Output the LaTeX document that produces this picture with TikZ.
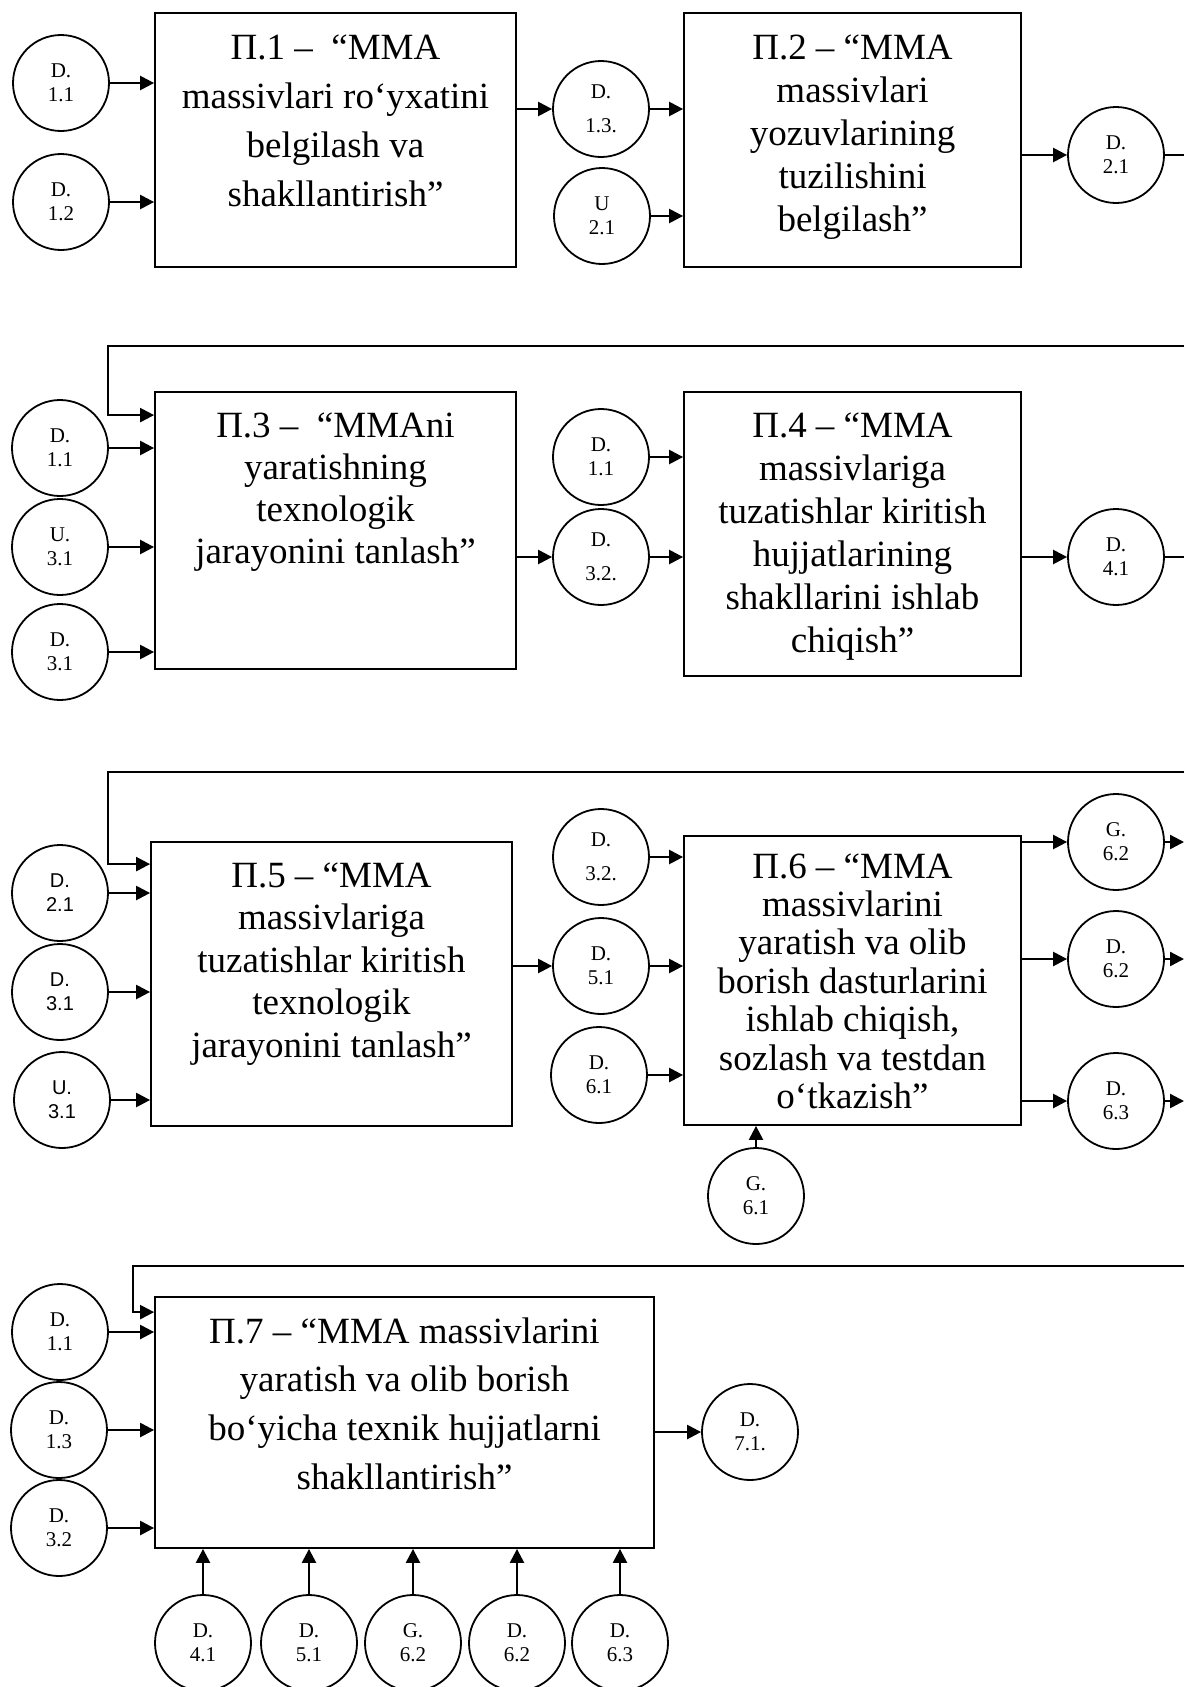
\documentclass[tikz,border=0pt]{standalone}
\usepackage{fontspec}
\setmainfont{Liberation Serif}
\newfontfamily\arialfont{Liberation Sans}
\usetikzlibrary{arrows.meta}

\def\boxfont#1{\fontsize{18.5}{#1}\selectfont}   % process text, #1 = line spacing
\def\edgex{1184}                                   % right border of the sheet

\begin{document}
\begin{tikzpicture}[x=0.5pt,y=-0.5pt,
    dcirc/.style={circle,draw,line width=0.9pt,minimum size=48pt,inner sep=0pt,
      align=center,font=\fontsize{10.5}{12}\selectfont},
    dsans/.style={dcirc,font=\arialfont\fontsize{10}{12}\selectfont},
    procbox/.style={draw,line width=0.9pt,inner sep=0pt},
    proctxt/.style={align=center,inner sep=0pt,anchor=north},
    flow/.style={line width=1.2pt,-{Triangle[length=7pt,width=7pt]}},
    plain/.style={line width=1.2pt}]
  \useasboundingbox (0,0) rectangle (1184,1687);

  % ---------- P.1 and P.2
  \node[dcirc] (d11a) at (61,83) {D.\\1.1};
  \node[dcirc] (d12) at (61,202) {D.\\1.2};
  \node[procbox,minimum width=180.5pt,minimum height=127pt] (p1) at (335.5,140) {};
  \node[proctxt,font=\boxfont{24.5}] (t1) at (335.5,34)
    {П.1 –~~“MMA\\massivlari ro‘yxatini\\belgilash va\\shakllantirish”};
  \node[dcirc] (d13a) at (601,109) {D.\\[5pt]1.3.};
  \node[dcirc] (u21) at (602,216) {U\\2.1};
  \node[procbox,minimum width=168.5pt,minimum height=127pt] (p2) at (852.5,140) {};
  \node[proctxt,font=\boxfont{21.5}] (t2) at (852.5,34)
    {П.2 – “MMA\\massivlari\\yozuvlarining\\tuzilishini\\belgilash”};
  \node[dcirc] (d21a) at (1116,155) {D.\\2.1};
  \coordinate (d21out) at (\edgex,155);

  \foreach \src in {d11a,d12} \draw[flow] (\src.east) -- (\src.east -| p1.west);
  \draw[flow] (d13a.west -| p1.east) -- (d13a.west);
  \foreach \src in {d13a,u21} \draw[flow] (\src.east) -- (\src.east -| p2.west);
  \draw[flow] (d21a.west -| p2.east) -- (d21a.west);
  \draw[plain] (d21a.east) -- (d21out);

  % ---------- P.3 and P.4
  \coordinate (fb2) at (\edgex,346);
  \coordinate (fb2c) at (108,346);
  \node[dcirc] (d11b) at (60,448) {D.\\1.1};
  \node[dcirc] (u31a) at (60,547) {U.\\3.1};
  \node[dcirc] (d31a) at (60,652) {D.\\3.1};
  \node[procbox,minimum width=180.5pt,minimum height=138.5pt] (p3) at (335.5,530.5) {};
  \node[proctxt,font=\boxfont{21}] (t3) at (335.5,412)
    {П.3 –~~“MMAni\\yaratishning\\texnologik\\jarayonini tanlash”};
  \node[dcirc] (d11c) at (601,457) {D.\\1.1};
  \node[dcirc] (d32a) at (601,557) {D.\\[5pt]3.2.};
  \node[procbox,minimum width=168.5pt,minimum height=142pt] (p4) at (852.5,534) {};
  \node[proctxt,font=\boxfont{21.5}] (t4) at (852.5,412)
    {П.4 – “MMA\\massivlariga\\tuzatishlar kiritish\\hujjatlarining\\shakllarini ishlab\\chiqish”};
  \node[dcirc] (d41a) at (1116,557) {D.\\4.1};
  \coordinate (d41out) at (\edgex,557);

  \draw[flow] (fb2) -- (fb2c) |- ([yshift=-12pt]p3.north west);
  \foreach \src in {d11b,u31a,d31a} \draw[flow] (\src.east) -- (\src.east -| p3.west);
  \draw[flow] (d32a.west -| p3.east) -- (d32a.west);
  \foreach \src in {d11c,d32a} \draw[flow] (\src.east) -- (\src.east -| p4.west);
  \draw[flow] (d41a.west -| p4.east) -- (d41a.west);
  \draw[plain] (d41a.east) -- (d41out);

  % ---------- P.5 and P.6
  \coordinate (fb3) at (\edgex,772);
  \coordinate (fb3c) at (108,772);
  \node[dsans] (d21b) at (60,893) {D.\\2.1};
  \node[dsans] (d31b) at (60,992) {D.\\3.1};
  \node[dsans] (u31b) at (62,1100) {U.\\3.1};
  \node[procbox,minimum width=180.5pt,minimum height=142pt] (p5) at (331.5,984) {};
  \node[proctxt,font=\boxfont{21.25}] (t5) at (331.5,862)
    {П.5 – “MMA\\massivlariga\\tuzatishlar kiritish\\texnologik\\jarayonini tanlash”};
  \node[dcirc] (d32b) at (601,857) {D.\\[5pt]3.2.};
  \node[dcirc] (d51a) at (601,966) {D.\\5.1};
  \node[dcirc] (d61) at (599,1075) {D.\\6.1};
  \node[procbox,minimum width=168.5pt,minimum height=144.5pt] (p6) at (852.5,980.5) {};
  \node[proctxt,font=\boxfont{19.2}] (t6) at (852.5,853)
    {П.6 – “MMA\\massivlarini\\yaratish va olib\\borish dasturlarini\\ishlab chiqish,\\sozlash va testdan\\o‘tkazish”};
  \node[dcirc] (g61) at (756,1196) {G.\\6.1};

  \draw[flow] (fb3) -- (fb3c) |- ([yshift=-11.5pt]p5.north west);
  \foreach \src in {d21b,d31b,u31b} \draw[flow] (\src.east) -- (\src.east -| p5.west);
  \draw[flow] (d51a.west -| p5.east) -- (d51a.west);
  \foreach \src in {d32b,d51a,d61} \draw[flow] (\src.east) -- (\src.east -| p6.west);
  \draw[flow] (g61.north) -- (g61.north |- p6.south);
  \foreach \nm/\y/\txt in {g62a/842/{G.\\6.2},d62a/959/{D.\\6.2},d63a/1101/{D.\\6.3}} {
    \node[dcirc] (\nm) at (1116,\y) {\txt};
    \coordinate (\nm out) at (\edgex,\y);
    \draw[flow] (\nm.west -| p6.east) -- (\nm.west);
    \draw[flow] (\nm.east) -- (\nm out);
  }

  % ---------- P.7
  \coordinate (fb4) at (\edgex,1266);
  \coordinate (fb4c) at (133,1266);
  \node[dcirc] (d11d) at (60,1332) {D.\\1.1};
  \node[dcirc] (d13b) at (59,1430) {D.\\1.3};
  \node[dcirc] (d32c) at (59,1528) {D.\\3.2};
  \node[procbox,minimum width=249.5pt,minimum height=125.5pt] (p7) at (404.5,1422.5) {};
  \node[proctxt,font=\boxfont{24.4}] (t7) at (404.5,1317)
    {П.7 – “MMA massivlarini\\yaratish va olib borish\\bo‘yicha texnik hujjatlarni\\shakllantirish”};
  \node[dcirc] (d71) at (750,1432) {D.\\7.1.};

  \draw[flow] (fb4) -- (fb4c) |- ([yshift=-8pt]p7.north west);
  \foreach \src in {d11d,d13b,d32c} \draw[flow] (\src.east) -- (\src.east -| p7.west);
  \draw[flow] (d71.west -| p7.east) -- (d71.west);
  \foreach \nm/\x/\txt in {d41b/203/{D.\\4.1},d51b/309/{D.\\5.1},g62b/413/{G.\\6.2},
      d62b/517/{D.\\6.2},d63b/620/{D.\\6.3}} {
    \node[dcirc] (\nm) at (\x,1643) {\txt};
    \draw[flow] (\nm.north) -- (\nm.north |- p7.south);
  }
\end{tikzpicture}
\end{document}
